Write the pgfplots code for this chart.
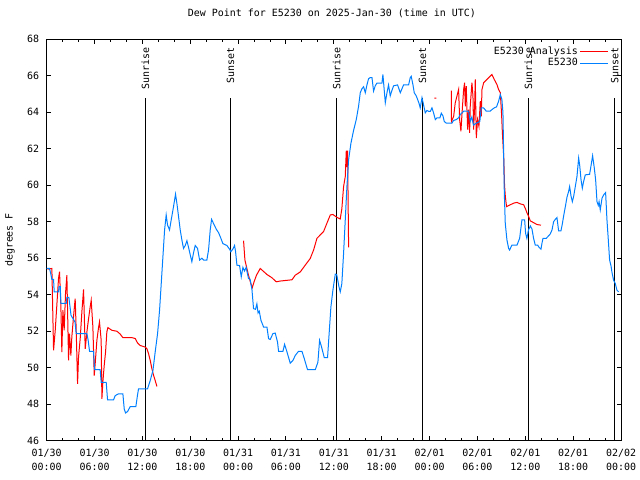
\documentclass[border=0pt]{standalone}
\usepackage{pgfplots}
\pgfplotsset{compat=1.18}
\usepackage{fontspec}
\newfontfamily\gp{DejaVu Sans Mono}
\newcommand\gpf{\gp\fontsize{10}{13.7}\selectfont}
\definecolor{gpblue}{RGB}{0,128,255}
\definecolor{gpred}{RGB}{255,0,0}
\begin{document}
\begin{tikzpicture}
\useasboundingbox (0,0) rectangle (640bp,480bp);
\begin{axis}[
  at={(46.7bp,39.3bp)}, anchor=south west,
  scale only axis, width=574.3bp, height=401.4bp,
  xmin=0, xmax=72, ymin=46, ymax=68,
  xtick={0,6,...,72},
  xticklabels={{01/30\\00:00},{01/30\\06:00},{01/30\\12:00},{01/30\\18:00},{01/31\\00:00},{01/31\\06:00},{01/31\\12:00},{01/31\\18:00},{02/01\\00:00},{02/01\\06:00},{02/01\\12:00},{02/01\\18:00},{02/02\\00:00}},
  minor x tick num=2,
  ytick={46,48,...,68},
  tick align=inside,
  major tick length=4.5bp, minor tick length=3bp,
  axis line style={line width=1bp},
  tick style={line width=1bp, black},
  /pgf/number format/assume math mode=true,
  x tick label style={align=center, font=\gpf, yshift=-5bp},
  y tick label style={font=\gpf, xshift=-4bp},
  title={Dew Point for E5230 on 2025-Jan-30 (time in UTC)},
  title style={font=\gpf, at={(rel axis cs:0.5,1)}, anchor=center, yshift=20.3bp, xshift=-2bp},
  unbounded coords=jump,
  legend cell align=right,
  legend plot pos=right,
  legend style={at={(rel axis cs:1,1)}, anchor=north east, xshift=-9bp, yshift=-3.5bp,
    draw=none, fill=none, font=\gpf, row sep=-1.5bp},
  legend image code/.code={\draw[#1] (0bp,0bp) -- (28bp,0bp);},
]
% sunrise / sunset markers
\addplot[black, line width=1bp, forget plot] coordinates {(12.38,46) (12.38,64.8)};
\addplot[black, line width=1bp, forget plot] coordinates {(23.05,46) (23.05,64.8)};
\addplot[black, line width=1bp, forget plot] coordinates {(36.36,46) (36.36,64.8)};
\addplot[black, line width=1bp, forget plot] coordinates {(47.1,46) (47.1,64.8)};
\addplot[black, line width=1bp, forget plot] coordinates {(60.4,46) (60.4,64.8)};
\addplot[black, line width=1bp, forget plot] coordinates {(71.2,46) (71.2,64.8)};
\node[rotate=90, anchor=east, inner sep=0pt, font=\gpf] at (axis cs:12.38,67.55) {Sunrise};
\node[rotate=90, anchor=east, inner sep=0pt, font=\gpf] at (axis cs:23.05,67.55) {Sunset};
\node[rotate=90, anchor=east, inner sep=0pt, font=\gpf] at (axis cs:36.36,67.55) {Sunrise};
\node[rotate=90, anchor=east, inner sep=0pt, font=\gpf] at (axis cs:47.1,67.55) {Sunset};
\node[rotate=90, anchor=east, inner sep=0pt, font=\gpf] at (axis cs:60.4,67.55) {Sunrise};
\node[rotate=90, anchor=east, inner sep=0pt, font=\gpf] at (axis cs:71.2,67.55) {Sunset};
% E5230 Analysis
\addplot[gpred, line width=1bp] coordinates {
(0.1,55.4) (0.65,55.44) (0.86,50.95) (1.07,52.05) (1.27,53.42) (1.48,54.89) (1.61,55.26)
(1.78,53.33) (1.9,50.86) (2.03,53.15) (2.19,52.05) (2.36,54.07) (2.53,55.07) (2.74,50.4)
(2.86,51.87) (3.03,50.67) (3.15,51.68) (3.36,52.78) (3.57,53.79) (3.7,52.05) (3.87,49.12)
(3.99,50.58) (4.2,51.59) (4.41,53.06) (4.62,54.29) (4.74,52.42) (4.83,51.04) (5.04,51.96)
(5.25,52.69) (5.45,53.33) (5.58,53.7) (5.79,52.23) (5.96,49.57) (6.08,50.22) (6.29,51.5)
(6.5,52.2) (6.62,52.51) (6.83,51.5) (6.92,48.29) (7.04,49.21) (7.21,50.12) (7.38,50.86)
(7.54,51.96) (7.67,52.2) (8.17,52.05) (8.8,52.0) (9.2,51.85) (9.55,51.65) (10.05,51.65)
(10.68,51.65) (11.1,51.6) (11.4,51.35) (11.72,51.22) (12.35,51.13) (12.56,51.04) (12.77,50.77)
(12.98,50.4) (13.19,49.94) (13.4,49.58) (13.6,49.3) (13.82,48.97)
(18,nan)
(24.68,56.96) (24.85,55.9) (25.3,55.07) (25.6,54.6) (25.77,54.38) (26.0,54.71) (26.3,55.07)
(26.77,55.44) (27.61,55.11) (28.24,54.93) (28.78,54.71) (29.28,54.75) (30.32,54.8) (30.75,54.82)
(31.16,55.07) (31.79,55.25) (32.41,55.62) (33.04,55.99) (33.46,56.45) (33.88,57.09) (34.3,57.28)
(34.71,57.46) (35.13,57.92) (35.55,58.37) (35.88,58.4) (36.38,58.24) (36.8,58.15) (37.0,58.7)
(37.22,59.93) (37.43,60.48) (37.56,61.9) (37.62,61.0) (37.72,61.9) (37.85,56.6)
(43,nan)
(48.6,64.78) (48.85,64.78)
(49.5,nan)
(50.72,65.19) (50.75,63.5) (51.02,63.78) (51.22,64.52) (51.43,64.88) (51.64,65.25) (51.77,63.6)
(51.93,62.96) (52.06,63.87) (52.27,65.25) (52.39,65.62) (52.48,64.33) (52.6,65.43) (52.77,63.05)
(52.9,64.15) (53.02,62.87) (53.1,64.33) (53.31,65.62) (53.44,64.88) (53.52,63.05) (53.65,64.33)
(53.73,65.8) (53.86,62.59) (54.02,63.6) (54.19,63.23) (54.36,64.61) (54.48,63.78) (54.57,65.25)
(54.78,65.62) (55.2,65.8) (55.61,65.98) (55.82,66.07) (56.11,65.8) (56.45,65.52) (56.65,65.25)
(56.87,65.07) (57.03,63.87) (57.12,62.96) (57.3,61.5) (57.4,60.0) (57.5,59.38) (57.65,58.83)
(58.12,58.93) (58.54,59.02) (58.96,59.06) (59.37,58.98) (59.79,58.93) (60.0,58.74) (60.2,58.5)
(60.41,58.3) (60.63,58.05) (61.04,57.95) (61.47,57.85) (61.97,57.81)
};
\addlegendentry{E5230 Analysis}
% E5230
\addplot[gpblue, line width=1bp] coordinates {
(0.0,55.44) (0.35,55.44) (0.5,55.17) (0.65,54.84) (0.86,54.84) (0.94,54.16) (1.48,54.16)
(1.55,54.45) (1.7,54.45) (1.78,53.52) (2.45,53.52) (2.53,53.85) (2.78,53.85) (2.95,53.24)
(3.05,52.87) (3.37,52.64) (3.55,52.5) (3.7,51.87) (5.04,51.87) (5.2,51.5) (5.37,50.9)
(5.87,50.9) (6.0,49.9) (6.7,49.9) (6.83,49.2) (7.46,49.2) (7.63,48.24) (8.38,48.24)
(8.59,48.47) (9.0,48.57) (9.55,48.57) (9.72,47.74) (9.89,47.52) (10.14,47.6) (10.47,47.87)
(11.18,47.87) (11.35,48.4) (11.51,48.84) (12.64,48.84) (12.98,49.3) (13.32,49.85) (13.6,50.86)
(13.9,51.87) (14.15,53.15) (14.36,54.62) (14.57,56.08) (14.78,57.55) (14.98,58.37) (15.15,57.82)
(15.4,57.55) (15.57,58.0) (15.9,58.83) (16.15,59.51) (16.32,59.02) (16.53,58.28) (16.74,57.55)
(16.95,57.0) (17.15,56.54) (17.37,56.7) (17.58,56.96) (17.78,56.6) (17.99,56.2) (18.2,55.81)
(18.41,56.3) (18.62,56.7) (18.91,56.54) (19.17,55.9) (19.46,56.0) (19.67,55.9) (20.08,55.9)
(20.29,56.45) (20.5,57.55) (20.67,58.13) (20.92,57.9) (21.25,57.6) (21.55,57.4) (21.84,57.09)
(22.09,56.8) (22.59,56.7) (22.92,56.5) (23.09,56.36) (23.34,56.5) (23.55,56.7) (23.68,56.36)
(23.85,55.62) (24.18,55.6) (24.39,54.98) (24.6,55.5) (24.8,55.3) (25.0,55.5) (25.3,54.89)
(25.5,54.85) (25.73,54.3) (25.93,53.24) (26.18,53.2) (26.35,53.5) (26.5,53.0) (26.65,53.1)
(26.86,52.6) (27.19,52.23) (27.61,52.23) (27.82,51.59) (28.03,51.55) (28.36,51.87) (28.65,51.9)
(28.94,51.4) (29.07,50.9) (29.62,50.9) (29.82,51.28) (30.1,50.9) (30.53,50.25) (30.87,50.4)
(31.16,50.67) (31.57,50.9) (32.0,50.9) (32.29,50.5) (32.7,49.89) (33.67,49.89) (34.0,50.3)
(34.21,51.5) (34.42,51.2) (34.8,50.55) (35.21,50.55) (35.38,51.68) (35.63,53.33) (35.88,54.25)
(36.18,55.13) (36.36,55.1) (36.64,54.44) (36.8,54.16) (37.0,54.6) (37.22,56.27) (37.43,58.1)
(37.64,59.93) (37.85,61.4) (38.14,62.3) (38.47,63.0) (38.81,63.6) (39.1,64.33) (39.31,65.07)
(39.52,65.29) (39.73,65.4) (39.94,65.07) (40.15,65.5) (40.35,65.84) (40.56,65.9) (40.78,65.9)
(40.98,65.16) (41.19,65.45) (41.4,65.6) (42.03,65.6) (42.15,66.07) (42.3,65.3) (42.45,64.52)
(42.66,65.07) (42.86,65.5) (43.07,64.9) (43.28,65.2) (43.49,65.45) (43.99,65.5) (44.33,65.07)
(44.54,65.29) (44.74,65.5) (45.37,65.5) (45.58,65.9) (45.7,65.97) (45.92,65.5) (46.08,65.07)
(46.33,64.9) (46.5,64.7) (46.67,64.5) (46.83,64.24) (47.05,64.8) (47.25,64.4) (47.46,63.97)
(47.67,64.1) (47.88,64.05) (48.09,64.05) (48.3,64.24) (48.5,63.97) (48.72,63.6) (48.93,63.7)
(49.3,63.7) (49.47,63.95) (49.68,63.8) (49.84,63.5) (50.1,63.4) (50.8,63.4) (51.0,63.55)
(51.35,63.6) (51.64,63.7) (51.85,63.88) (52.27,64.06) (52.9,64.06) (53.1,63.5) (53.3,63.75)
(53.5,63.3) (53.94,63.42) (54.3,63.5) (54.48,64.24) (54.78,64.24) (55.11,64.06) (55.6,64.06)
(55.82,64.15) (56.11,64.24) (56.4,64.3) (56.65,64.6) (56.87,64.97) (57.07,64.7) (57.2,63.97)
(57.28,61.95) (57.37,59.57) (57.49,57.92) (57.7,57.0) (57.91,56.54) (58.03,56.45) (58.33,56.72)
(58.96,56.72) (59.29,57.09) (59.5,57.82) (59.58,58.1) (59.92,58.1) (60.04,57.37) (60.2,57.09)
(60.4,57.55) (60.63,57.77) (60.84,57.6) (61.04,57.09) (61.25,56.72) (61.55,56.72) (61.72,56.6)
(61.97,56.5) (62.09,56.82) (62.22,57.09) (62.63,57.09) (63.13,57.33) (63.35,57.55) (63.55,58.0)
(63.76,58.13) (63.97,58.23) (64.18,57.5) (64.47,57.5) (64.64,57.87) (64.8,58.3) (65.01,58.8)
(65.23,59.35) (65.43,59.66) (65.56,59.93) (65.73,59.42) (65.9,59.1) (66.06,59.38) (66.27,59.93)
(66.48,60.48) (66.69,61.49) (66.82,61.1) (66.99,60.3) (67.15,59.84) (67.31,60.2) (67.52,60.57)
(68.06,60.6) (68.23,61.04) (68.44,61.62) (68.65,60.95) (68.82,60.3) (68.99,59.1) (69.15,58.9)
(69.25,59.1) (69.4,58.65) (69.62,59.29) (69.82,59.47) (70.07,59.6) (70.24,58.1) (70.41,57.0)
(70.57,55.9) (70.74,55.6) (70.86,55.25) (71.07,54.8) (71.28,54.62) (71.49,54.25) (71.7,54.16)
};
\addlegendentry{E5230}
\end{axis}
\node[rotate=90, font=\gpf] at (10bp,240bp) {degrees F};
\end{tikzpicture}
\end{document}
